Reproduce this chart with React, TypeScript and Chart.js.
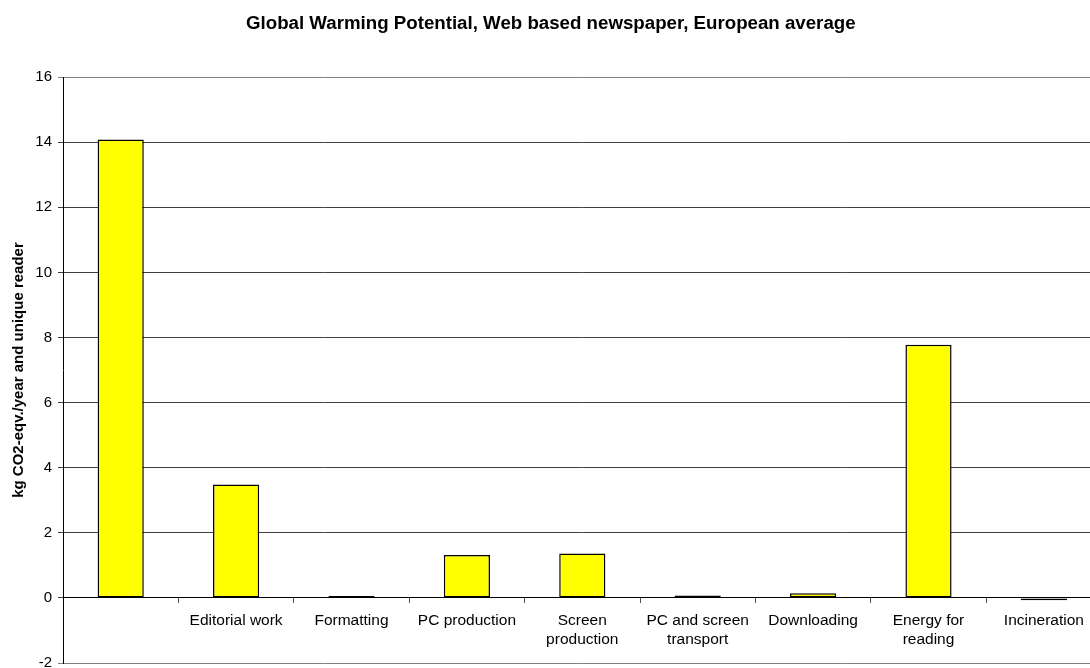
import React, { useEffect, useRef } from "react";
import { Chart, registerables } from "chart.js";

Chart.register(...registerables);

const chartTitle = "Global Warming Potential, Web based newspaper, European average";
const yAxisTitle = "kg CO2-eqv./year and unique reader";

const categories: (string | string[])[] = [
  "",
  "Editorial work",
  "Formatting",
  "PC production",
  ["Screen", "production"],
  ["PC and screen", "transport"],
  "Downloading",
  ["Energy for", "reading"],
  "Incineration",
];

const values = [14.08, 3.48, 0.06, 1.32, 1.36, 0.07, 0.14, 7.78, -0.07];

const yMin = -2;
const yMax = 16;
const yStep = 2;

export default function App() {
  const canvasRef = useRef<HTMLCanvasElement | null>(null);

  useEffect(() => {
    if (!canvasRef.current) return;
    const font = "'Liberation Sans', Arial, Helvetica, sans-serif";
    const chart = new Chart(canvasRef.current, {
      type: "bar",
      data: {
        labels: categories as any,
        datasets: [
          {
            data: values,
            backgroundColor: "#FFFF00",
            borderColor: "#000000",
            borderWidth: 1.5,
            borderSkipped: false,
            categoryPercentage: 1,
            barPercentage: 0.4,
          },
        ],
      },
      options: {
        responsive: false,
        animation: false,
        layout: { padding: { left: 0, right: 8.4, top: 0, bottom: 5 } },
        plugins: {
          legend: { display: false },
          tooltip: { enabled: false },
          title: {
            display: true,
            text: chartTitle,
            color: "#000",
            font: { family: font, size: 18.7, weight: "bold" },
            padding: { top: 13, bottom: 41.6 },
          },
        },
        scales: {
          x: {
            position: { y: 0 } as any,
            offset: true,
            grid: {
              offset: true,
              drawOnChartArea: false,
              drawTicks: true,
              tickLength: 5,
              color: "#505050",
            },
            border: { display: true, color: "#000", width: 1 },
            ticks: {
              color: "#000",
              font: { family: font, size: 15.5 },
              padding: 9,
              maxRotation: 0,
              minRotation: 0,
              autoSkip: false,
            },
          },
          y: {
            min: yMin,
            max: yMax,
            afterFit: (scale: any) => {
              scale.width = 63;
            },
            grid: {
              color: (ctx: any) =>
                ctx.tick && (ctx.tick.value === yMax || ctx.tick.value === yMin)
                  ? "#808080"
                  : "#404040",
              tickLength: 5,
              drawTicks: true,
            },
            border: { display: true, color: "#000", width: 1 },
            ticks: {
              stepSize: yStep,
              color: "#000",
              font: { family: font, size: 15 },
              padding: 6,
            },
            title: {
              display: true,
              text: yAxisTitle,
              color: "#000",
              font: { family: font, size: 15, weight: "bold" },
              padding: { top: 10, bottom: 0 },
            },
          },
        },
      },
    });
    return () => chart.destroy();
  }, []);

  return (
    <div
      style={{
        position: "fixed",
        left: 0,
        top: 0,
        width: 1090,
        height: 668,
        overflow: "hidden",
        background: "#fff",
      }}
    >
      <canvas ref={canvasRef} width={1110} height={678} style={{ display: "block" }} />
    </div>
  );
}
